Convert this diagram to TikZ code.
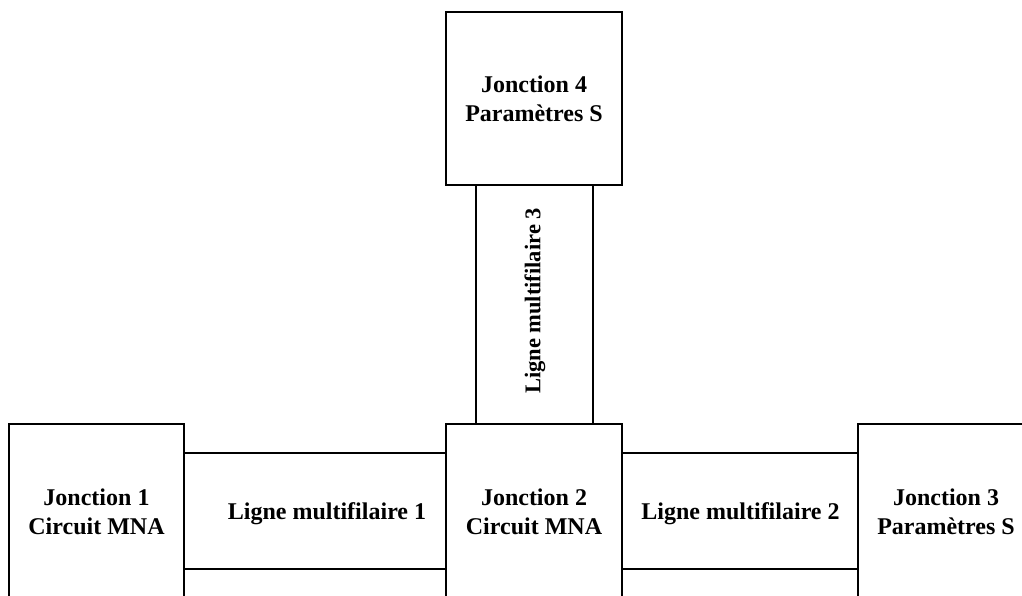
\documentclass[tikz,border=0pt]{standalone}
\usepackage{fontspec}
\setmainfont{Liberation Serif}
\begin{document}
\begin{tikzpicture}[x=1pt,y=1pt,
  box/.style={draw,line width=1.2pt,fill=white,inner sep=0pt,align=center,
    font=\fontsize{24}{29}\selectfont\bfseries},
  lbox/.style={draw,line width=1.2pt,fill=white,inner sep=0pt},
  ltext/.style={inner sep=0pt,font=\fontsize{24}{29}\selectfont\bfseries}]
\useasboundingbox (0,0) rectangle (1022,595);
\clip (0,0) rectangle (1022,595);
% lines
\node[lbox,minimum width=262pt,minimum height=116pt] (l1) at (315,84) {};
\node[ltext] (l1t) at (327,81.5) {Ligne multifilaire 1};
\node[lbox,minimum width=236pt,minimum height=116pt] (l2) at (740,84) {};
\node[ltext] (l2t) at (740.5,81.5) {Ligne multifilaire 2};
\node[lbox,minimum width=117pt,minimum height=239pt] (l3) at (534.5,290.5) {};
\node[ltext,rotate=90,font=\fontsize{22.5}{27}\selectfont\bfseries] (l3t) at (535,294) {Ligne multifilaire 3};
% junctions
\node[box,minimum width=175pt,minimum height=175pt] (j1) at (96.5,83.5) {Jonction 1\\Circuit MNA};
\node[box,minimum width=176pt,minimum height=175pt] (j2) at (534,83.5) {Jonction 2\\Circuit MNA};
\node[box,minimum width=176pt,minimum height=175pt] (j3) at (946,83.5) {Jonction 3\\Paramètres S};
\node[box,minimum width=176pt,minimum height=173pt] (j4) at (534,496.5) {Jonction 4\\Paramètres S};
\end{tikzpicture}
\end{document}
